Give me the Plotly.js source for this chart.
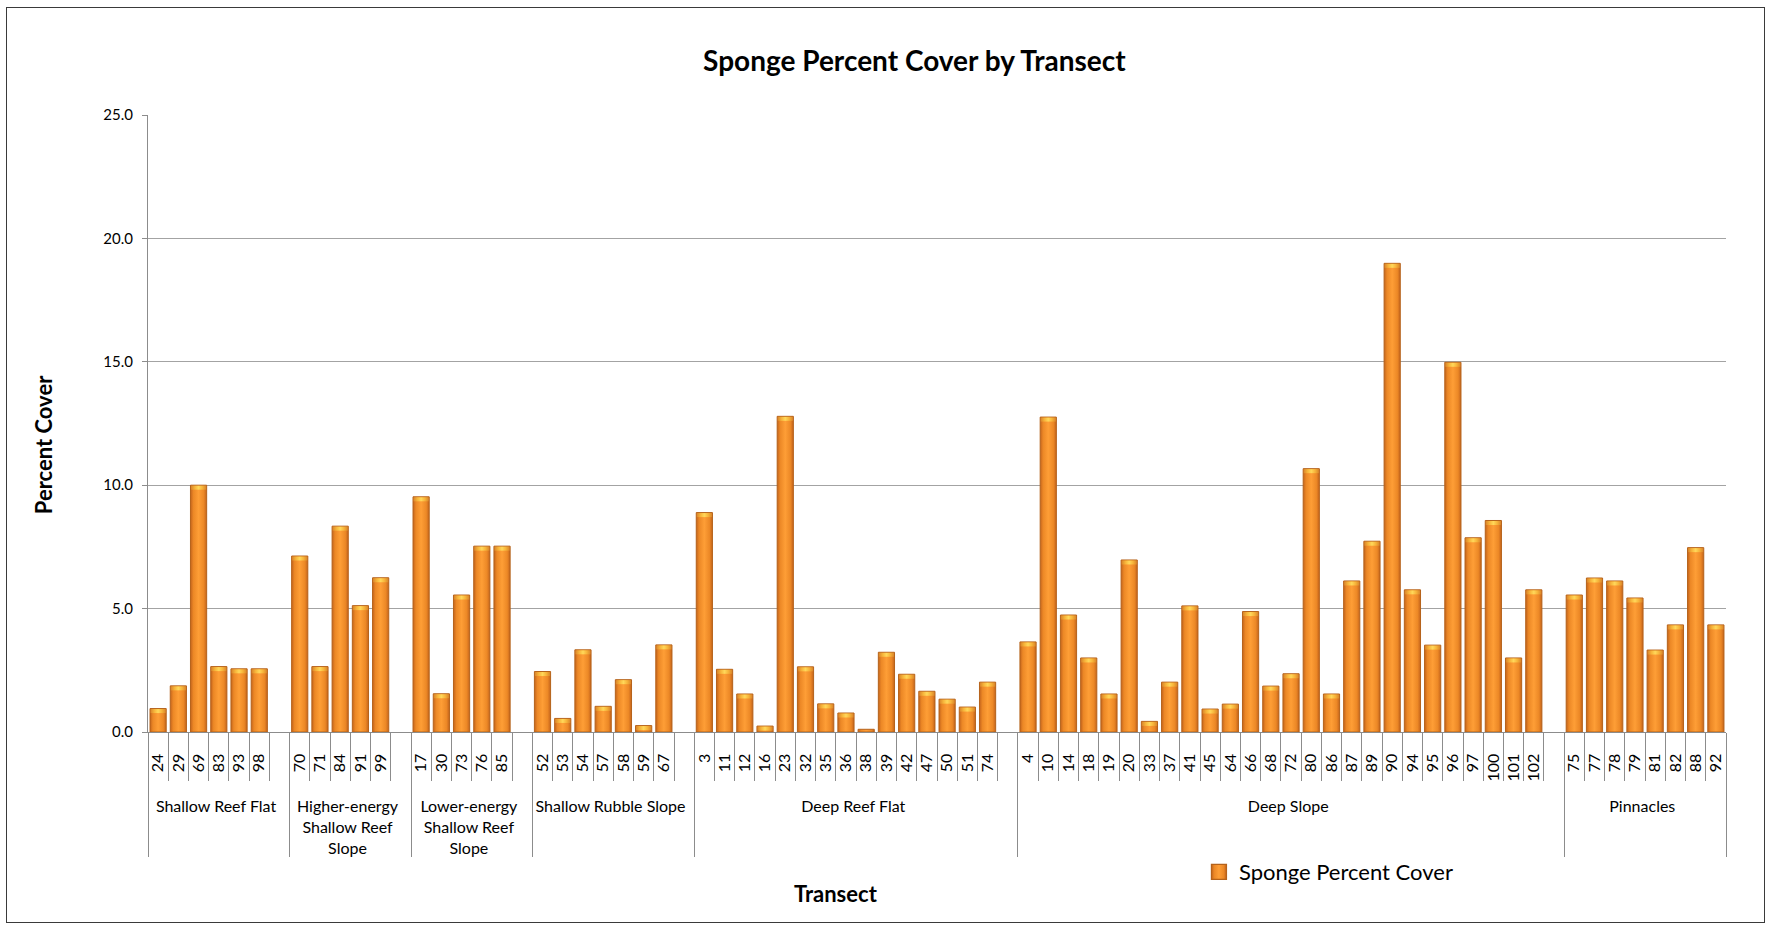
<!DOCTYPE html>
<html>
<head>
<meta charset="utf-8">
<script src="https://cdn.plot.ly/plotly-3.0.1.min.js"></script>
<style>
  html, body { margin: 0; padding: 0; background: #ffffff; }
  #wrap { position: relative; width: 1772px; height: 927px; }
  #chart { position: absolute; left: 0; top: 0; width: 1772px; height: 927px; }
  #frame { position: absolute; left: 6px; top: 7px; width: 1757px; height: 914px; border: 1.5px solid #3a3a3a; pointer-events: none; }
</style>
</head>
<body>
<div id="wrap">
  <div id="chart"></div>
  <div id="frame"></div>
</div>
<script>
// ---- Data ----
const groupNames = [
  'Shallow Reef Flat',
  'Higher-energy<br>Shallow Reef<br>Slope',
  'Lower-energy<br>Shallow Reef<br>Slope',
  'Shallow Rubble Slope',
  'Deep Reef Flat',
  'Deep Slope',
  'Pinnacles'
];

const shallowReefFlatIds = ['24','29','69','83','93','98'];
const shallowReefFlatVals = [0.95, 1.87, 10.0, 2.65, 2.56, 2.56];

const higherEnergyIds = ['70','71','84','91','99'];
const higherEnergyVals = [7.13, 2.65, 8.34, 5.12, 6.25];

const lowerEnergyIds = ['17','30','73','76','85'];
const lowerEnergyVals = [9.53, 1.55, 5.55, 7.53, 7.53];

const rubbleSlopeIds = ['52','53','54','57','58','59','67'];
const rubbleSlopeVals = [2.45, 0.55, 3.33, 1.04, 2.12, 0.26, 3.53];

const deepReefFlatIds = ['3','11','12','16','23','32','35','36','38','39','42','47','50','51','74'];
const deepReefFlatVals = [8.89, 2.54, 1.54, 0.24, 12.79, 2.64, 1.14, 0.77, 0.11, 3.23, 2.34, 1.65, 1.33, 1.01, 2.02];

const deepSlopeIds = ['4','10','14','18','19','20','33','37','41','45','64','66','68','72','80','86','87','89','90','94','95','96','97','100','101','102'];
const deepSlopeVals = [3.65, 12.76, 4.74, 3.00, 1.54, 6.97, 0.43, 2.02, 5.11, 0.93, 1.13, 4.88, 1.86, 2.36, 10.67, 1.54, 6.12, 7.73, 18.99, 5.76, 3.52, 14.98, 7.87, 8.57, 3.00, 5.76];

const pinnaclesIds = ['75','77','78','79','81','82','88','92'];
const pinnaclesVals = [5.55, 6.24, 6.12, 5.43, 3.32, 4.34, 7.47, 4.34];

const yTickVals = [0, 5, 10, 15, 20, 25];

// ---- Build multicategory arrays ----
const groupIds = [shallowReefFlatIds, higherEnergyIds, lowerEnergyIds, rubbleSlopeIds, deepReefFlatIds, deepSlopeIds, pinnaclesIds];
const groupVals = [shallowReefFlatVals, higherEnergyVals, lowerEnergyVals, rubbleSlopeVals, deepReefFlatVals, deepSlopeVals, pinnaclesVals];

const xOuter = [], xInner = [], yVals = [];
groupNames.forEach((g, gi) => {
  groupIds[gi].forEach((id, i) => {
    xOuter.push(g); xInner.push(id); yVals.push(groupVals[gi][i]);
  });
  if (gi < groupNames.length - 1) { // empty slot at the end of each group, as in the source
    xOuter.push(g); xInner.push(' '.repeat(gi + 1)); yVals.push(null);
  }
});

const FONT = 'Lato, "Open Sans", sans-serif';

const trace = {
  type: 'bar',
  x: [xOuter, xInner],
  y: yVals,
  name: 'Sponge Percent Cover',
  marker: { color: '#F5901F', line: { color: '#B5621A', width: 1 } },
  hoverinfo: 'x+y'
};

const layout = {
  width: 1772,
  height: 927,
  margin: { l: 148, r: 46, t: 115, b: 195 },
  paper_bgcolor: 'rgba(0,0,0,0)',
  plot_bgcolor: '#ffffff',
  font: { family: FONT, color: '#000000', size: 16 },
  title: {
    text: '<b>Sponge Percent Cover by Transect</b>',
    font: { family: FONT, size: 28, color: '#000' },
    xref: 'container', yref: 'container',
    x: 0.516, y: 0.934, xanchor: 'center', yanchor: 'middle'
  },
  bargap: 0.2,
  xaxis: {
    type: 'multicategory',
    showline: true, linecolor: '#8c8c8c', linewidth: 1,
    ticks: 'outside', tickson: 'boundaries', ticklen: 48, tickcolor: '#8c8c8c', tickwidth: 1,
    tickangle: -90,
    ticksuffix: '\u00a0\u00a0\u00a0\u2009',
    tickfont: { family: FONT, size: 16, color: '#000' },
    showdividers: true, dividercolor: '#8c8c8c', dividerwidth: 1,
    showgrid: false,
    automargin: false
  },
  yaxis: {
    range: [0, 25],
    tickvals: yTickVals,
    tickformat: '.1f',
    showgrid: true, gridcolor: '#a3a3a3', gridwidth: 1,
    showline: true, linecolor: '#8c8c8c', linewidth: 1,
    ticks: 'outside', ticklen: 5, tickcolor: '#8c8c8c',
    ticklabelstandoff: 6,
    tickfont: { family: FONT, size: 15, color: '#000' },
    zeroline: false,
    automargin: false
  },
  annotations: [
    {
      text: '<b>Percent Cover</b>', textangle: -90, showarrow: false,
      xref: 'paper', yref: 'paper', x: -0.0665, y: 0.465, xanchor: 'center', yanchor: 'middle',
      font: { family: FONT, size: 22, color: '#000' }
    },
    {
      text: '<b>Transect</b>', showarrow: false,
      xref: 'paper', yref: 'paper', x: 0.436, y: -0.261, xanchor: 'center', yanchor: 'middle',
      font: { family: FONT, size: 22, color: '#000' }
    }
  ],
  showlegend: true,
  legend: {
    x: 0.666, y: -0.227, xref: 'paper', yref: 'paper',
    xanchor: 'left', yanchor: 'middle',
    font: { family: FONT, size: 22, color: '#000' },
    bgcolor: 'rgba(0,0,0,0)', itemwidth: 30
  }
};

Plotly.newPlot('chart', [trace], layout, { displayModeBar: false, staticPlot: true }).then(gd => {
  // Shading gradients to mimic the beveled look of the source bars
  const svg = gd.querySelector('svg.main-svg');
  const ns = 'http://www.w3.org/2000/svg';
  let defs = svg.querySelector('defs');
  if (!defs) { defs = document.createElementNS(ns, 'defs'); svg.insertBefore(defs, svg.firstChild); }
  function addGrad(id, stops) {
    const grad = document.createElementNS(ns, 'linearGradient');
    grad.setAttribute('id', id);
    grad.setAttribute('x1', '0'); grad.setAttribute('x2', '1');
    grad.setAttribute('y1', '0'); grad.setAttribute('y2', '0');
    stops.forEach(([o, c]) => {
      const s = document.createElementNS(ns, 'stop');
      s.setAttribute('offset', o); s.setAttribute('stop-color', c);
      grad.appendChild(s);
    });
    defs.appendChild(grad);
  }
  addGrad('barShade', [['0%', '#C4641C'], ['18%', '#EC8826'], ['50%', '#FE9E36'], ['82%', '#EC8826'], ['100%', '#C4641C']]);
  addGrad('capShade', [['0%', '#D9862A'], ['25%', '#F7B43A'], ['50%', '#FFD85A'], ['75%', '#F7B43A'], ['100%', '#D9862A']]);
  gd.querySelectorAll('.trace.bars .point path').forEach(p => {
    p.style.fill = 'url(#barShade)';
    const bb = p.getBBox();
    if (bb.height > 3) {
      const cap = document.createElementNS(ns, 'rect');
      cap.setAttribute('x', bb.x + 0.5); cap.setAttribute('y', bb.y + 0.5);
      cap.setAttribute('width', Math.max(bb.width - 1, 0)); cap.setAttribute('height', 4);
      cap.setAttribute('fill', 'url(#capShade)');
      p.parentNode.appendChild(cap);
    }
  });
  gd.querySelectorAll('.legend .legendpoints path').forEach(p => {
    p.style.fill = 'url(#barShade)';
    const t = p.getAttribute('transform') || '';
    p.setAttribute('transform', t + ' scale(1.25)');
  });
});
</script>
</body>
</html>
